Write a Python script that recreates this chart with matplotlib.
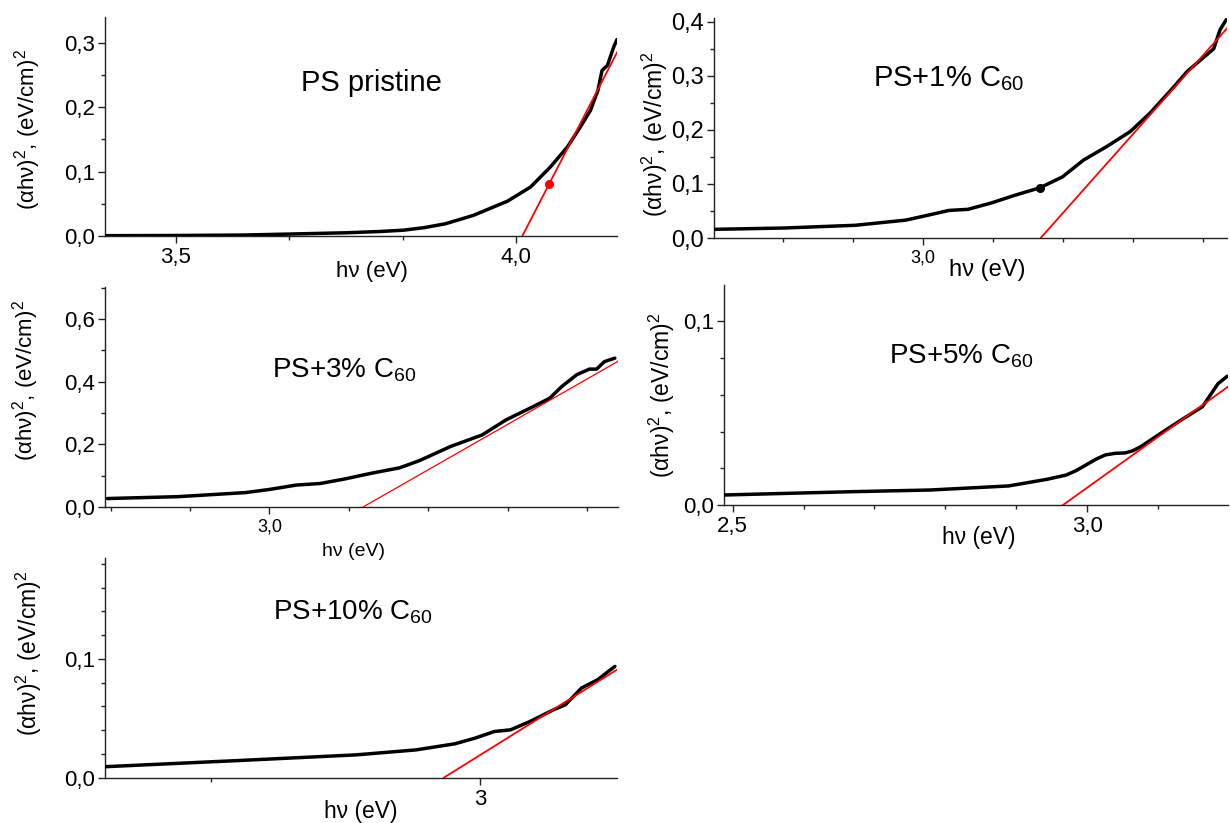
import matplotlib
matplotlib.use("Agg")
import matplotlib.pyplot as plt
from matplotlib.ticker import MultipleLocator, FuncFormatter

plt.rcParams['font.family'] = ['Liberation Sans', 'DejaVu Sans']
plt.rcParams['mathtext.fontset'] = 'custom'
plt.rcParams['mathtext.rm'] = 'Liberation Sans'
plt.rcParams['mathtext.it'] = 'Liberation Sans:italic'
plt.rcParams['mathtext.bf'] = 'Liberation Sans:bold'
plt.rcParams['mathtext.default'] = 'rm'

# ---------------- data ----------------
titles = ["PS pristine", r"PS+1% C$_{60}$", r"PS+3% C$_{60}$",
          r"PS+5% C$_{60}$", r"PS+10% C$_{60}$"]

x1 = [3.396, 3.5, 3.6, 3.666, 3.75, 3.80, 3.834, 3.865, 3.896, 3.937, 3.987,
      4.021, 4.050, 4.075, 4.094, 4.109, 4.120, 4.126, 4.134, 4.143, 4.148]
y1 = [0.0005, 0.0008, 0.0015, 0.003, 0.005, 0.007, 0.009, 0.013, 0.019, 0.032,
      0.054, 0.076, 0.107, 0.138, 0.169, 0.195, 0.226, 0.257, 0.265, 0.293, 0.305]

x2 = [2.701, 2.802, 2.903, 2.975, 3.003, 3.037, 3.064, 3.098, 3.131, 3.167,
      3.199, 3.229, 3.262, 3.296, 3.324, 3.357, 3.377, 3.405, 3.415, 3.424, 3.433]
y2 = [0.016, 0.0185, 0.0235, 0.033, 0.041, 0.051, 0.053, 0.065, 0.079, 0.093,
      0.113, 0.144, 0.169, 0.197, 0.231, 0.278, 0.308, 0.339, 0.35, 0.385, 0.404]

x3 = [2.796, 2.885, 2.970, 3.0, 3.034, 3.064, 3.094, 3.129, 3.164, 3.189,
      3.228, 3.268, 3.298, 3.328, 3.353, 3.368, 3.387, 3.403, 3.412, 3.422, 3.435]
y3 = [0.027, 0.033, 0.046, 0.056, 0.070, 0.075, 0.089, 0.108, 0.125, 0.148,
      0.193, 0.230, 0.278, 0.315, 0.347, 0.384, 0.422, 0.44, 0.44, 0.464, 0.475]

x4 = [2.489, 2.670, 2.779, 2.889, 2.943, 2.970, 2.984, 2.998, 3.012, 3.025,
      3.039, 3.053, 3.064, 3.075, 3.107, 3.135, 3.162, 3.184, 3.197]
y4 = [0.0056, 0.0074, 0.0083, 0.0105, 0.0141, 0.0164, 0.0188, 0.0219, 0.025,
      0.0273, 0.0282, 0.0284, 0.0296, 0.0318, 0.040, 0.047, 0.0535, 0.066, 0.070]

x5 = [2.652, 2.774, 2.884, 2.940, 2.976, 2.995, 3.013, 3.028, 3.046, 3.068,
      3.079, 3.094, 3.109, 3.125]
y5 = [0.0093, 0.0144, 0.0192, 0.0234, 0.0285, 0.0333, 0.0389, 0.0403, 0.0473,
      0.0572, 0.0614, 0.0755, 0.0825, 0.0937]

# linear fits: x-intercept (band gap) and slope
fit_x0 = [4.009, 3.168, 3.118, 2.965, 2.966]
fit_slope = [2.05, 1.458, 1.448, 0.276, 0.565]

# marked points
mark1 = (4.048, 0.0806)
mark2 = (3.167, 0.092)

xlims = [(3.396, 4.148), (2.701, 3.434), (2.793, 3.439), (2.488, 3.198), (2.651, 3.127)]
ylims = [(0, 0.34), (0, 0.407), (0, 0.702), (0, 0.1195), (0, 0.185)]

# ---------------- layout ----------------
W, H = 1230, 823
fig = plt.figure(figsize=(W / 100, H / 100), dpi=100)

def axpx(l, r, b, t):
    return [l / W, 1 - b / H, (r - l) / W, (b - t) / H]

rects = [axpx(105, 617, 236, 17), axpx(713.6, 1227, 238, 18),
         axpx(105, 618, 507, 287), axpx(724, 1228, 505.3, 285),
         axpx(105, 617, 777.7, 558)]

xs = [x1, x2, x3, x4, x5]
ys = [y1, y2, y3, y4, y5]

x_major = [0.5, 0.5, 0.5, 0.5, 0.5]
x_minor = [0.5 / 3, 0.1, 0.1, 0.1, 0.25]
y_major = [0.1, 0.1, 0.2, 0.1, 0.1]
y_minor = [0.05, 0.05, 0.1, 0.02, 0.02]
xtick_fs = [16, 13, 13, 16, 16]
ytick_fs = [16, 17, 16, 16, 16]
xlabel_fs = [16, 17, 14, 16.5, 16.5]
ylabel_fs = [16, 16.5, 16, 16.5, 16.5]
title_fs = [21, 21, 20, 20, 20]
title_pos = [(0.52, 0.663), (0.457, 0.691), (0.466, 0.588), (0.47, 0.645), (0.484, 0.722)]
xlabel_pos = [(0.521, -0.164), (0.533, -0.145), (0.485, -0.2), (0.506, -0.148), (0.5, -0.152)]
ylabel_pos = [(-0.152, 0.484), (-0.114, 0.473), (-0.154, 0.573), (-0.123, 0.50), (-0.148, 0.568)]
red_lw = [1.3, 1.3, 0.9, 1.3, 1.3]

def comma_fmt(dec):
    def f(v, pos):
        s = f"{v:.{dec}f}"
        return s.replace(".", ",")
    return FuncFormatter(f)

ylabel_text = r"(αhν)$^{2}$, (eV/cm)$^{2}$"

for i in range(5):
    ax = fig.add_axes(rects[i])
    ax.patch.set_visible(False)
    ax.plot(xs[i], ys[i], color='black', lw=2.5, solid_capstyle='round',
            solid_joinstyle='round', zorder=3)
    xl = xlims[i]
    fx = [fit_x0[i], xl[1]]
    fy = [0.0, fit_slope[i] * (xl[1] - fit_x0[i])]
    ax.plot(fx, fy, color='#ff0000', lw=red_lw[i], zorder=4)
    ax.set_xlim(*xl)
    ax.set_ylim(*ylims[i])
    for s in ['top', 'right']:
        ax.spines[s].set_visible(False)
    for s in ['left', 'bottom']:
        ax.spines[s].set_linewidth(1.0)
        ax.spines[s].set_color('#222222')
    ax.xaxis.set_major_locator(MultipleLocator(x_major[i]))
    ax.xaxis.set_minor_locator(MultipleLocator(x_minor[i]))
    ax.yaxis.set_major_locator(MultipleLocator(y_major[i]))
    ax.yaxis.set_minor_locator(MultipleLocator(y_minor[i]))
    ax.xaxis.set_major_formatter(comma_fmt(0 if i == 4 else 1))
    ax.yaxis.set_major_formatter(comma_fmt(1))
    ax.tick_params(axis='both', which='major', direction='out', length=5, width=1,
                   color='#222222', pad=3)
    ax.tick_params(axis='both', which='minor', direction='out', length=3, width=1,
                   color='#222222')
    ax.tick_params(axis='x', labelsize=xtick_fs[i])
    ax.tick_params(axis='y', labelsize=ytick_fs[i], pad=2)
    ax.text(*title_pos[i], titles[i], transform=ax.transAxes, ha='center',
            va='baseline', fontsize=title_fs[i])
    ax.text(*xlabel_pos[i], "hν (eV)", transform=ax.transAxes, ha='center',
            va='center', fontsize=xlabel_fs[i])
    ax.text(*ylabel_pos[i], ylabel_text, transform=ax.transAxes, ha='center',
            va='center', rotation=90, fontsize=ylabel_fs[i])
    if i == 0:
        ax.plot([mark1[0]], [mark1[1]], 'o', color='#ff0000', ms=5.5, zorder=5)
    if i == 1:
        ax.plot([mark2[0]], [mark2[1]], 'o', color='black', ms=5.5, zorder=5)

fig.savefig("out.png", dpi=100)
